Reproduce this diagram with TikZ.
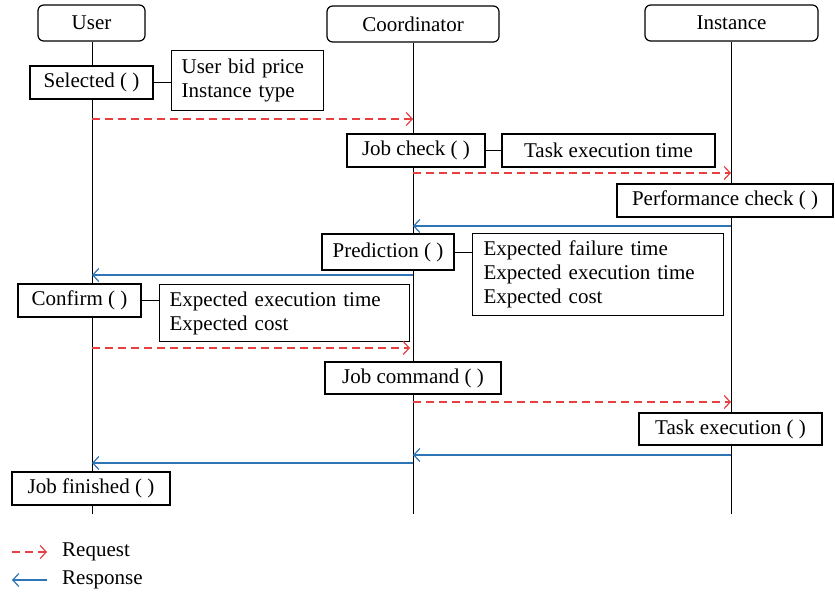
\documentclass[tikz,border=0pt]{standalone}
\usepackage{fontspec}
\setmainfont{Liberation Serif}
\usepackage{xcolor}
\usepackage{tikz}
\usetikzlibrary{calc}
\usetikzlibrary{positioning}
\usetikzlibrary{arrows.meta}

\definecolor{reqred}{RGB}{232,64,64}
\definecolor{respblue}{RGB}{46,117,182}

\begin{document}
\begin{tikzpicture}[
    x = 1pt,
    y = -1pt,
    font = \fontsize{21}{24}\selectfont,
    headf/.style = {
      rectangle,
      draw=black,
      rounded corners=2mm,
      fill=white,
      line width=1.2pt,
      minimum height=36pt,
      inner sep=0pt
    },
    callf/.style = {
      rectangle,
      draw=black,
      fill=white,
      line width=1.2pt,
      minimum height=33pt,
      inner sep=0pt
    },
    notef/.style = {
      rectangle,
      draw=black,
      fill=white,
      line width=1.2pt,
      anchor=north west,
      align=left,
      inner xsep=10pt,
      inner ysep=0pt
    },
    lifel/.style = {
      draw=black,
      line width=1pt
    },
    req/.style = {
      draw=reqred,
      line width=1.3pt,
      dash pattern=on 8pt off 5pt,
      -{Straight Barb[length=6pt,width=13pt,line width=1.2pt]}
    },
    resp/.style = {
      draw=respblue,
      line width=1.3pt,
      -{Straight Barb[length=6pt,width=13pt,line width=1.2pt]}
    }
  ]
    \useasboundingbox (0,0) rectangle (835,597);

    % lifeline heads
    \node[headf, minimum width=107pt] (user) at (91.5,23) {User};
    \node[headf, minimum width=172pt] (coord) at (413,24) {Coordinator};
    \node[headf, minimum width=173pt] (inst) at (731.5,23) {Instance};

    \coordinate (userend) at (92,514);
    \coordinate (coordend) at (413,514);
    \coordinate (instend) at (731,514);
    \draw[lifel] (user.south -| userend) -- (userend);
    \draw[lifel] (coord.south -| coordend) -- (coordend);
    \draw[lifel] (inst.south -| instend) -- (instend);

    % calls and notes
    \node[callf, minimum width=123pt] (sel) at (91.5,82.5) {Selected ( )};
    \node[notef, text width=132pt, minimum height=60pt] (bid) at (171,50)
      {User bid price\\Instance type};
    \draw[lifel] (sel.east) -- (sel.east -| bid.west);

    \node[callf, minimum width=138pt] (jcheck) at (416,150.5) {Job check ( )};
    \node[callf, minimum width=213pt] (ttime) at (608.5,150.5) {Task execution time};
    \draw[lifel] (jcheck) -- (ttime);

    \node[callf, minimum width=216pt] (perf) at (725,200.5) {Performance check ( )};

    \node[callf, minimum width=132pt, minimum height=36pt] (pred) at (388,252) {Prediction ( )};
    \node[notef, text width=229pt, minimum height=82pt, inner xsep=11pt] (exp) at (472,233)
      {Expected failure time\\Expected execution time\\Expected cost};
    \draw[lifel] (pred.east) -- (pred.east -| exp.west);

    \node[callf, minimum width=123pt] (conf) at (79.5,300.5) {Confirm ( )};
    \node[notef, text width=230pt, minimum height=57pt] (expc) at (159,284)
      {Expected execution time\\Expected cost};
    \draw[lifel] (conf.east) -- (conf.east -| expc.west);

    \node[callf, minimum width=176pt, minimum height=32pt] (jcmd) at (413,378) {Job command ( )};
    \node[callf, minimum width=183pt, minimum height=32pt] (texec) at (730.5,429) {Task execution ( )};
    \node[callf, minimum width=158pt] (jfin) at (91,488.5) {Job finished ( )};

    % messages
    \draw[req] (userend |- 0,119) -- (coordend |- 0,119);
    \draw[req] (coordend |- 0,173) -- (instend |- 0,173);
    \draw[resp] (instend |- 0,226) -- (coordend |- 0,226);
    \draw[resp] (coordend |- 0,275) -- (userend |- 0,275);
    \draw[req] (userend |- 0,348) -- (410,348);
    \draw[req] (coordend |- 0,402) -- (instend |- 0,402);
    \draw[resp] (instend |- 0,455) -- (coordend |- 0,455);
    \draw[resp] (coordend |- 0,463) -- (userend |- 0,463);

    % legend
    \node[anchor=west, inner sep=0pt] (reqlab) at (62,552) {Request};
    \node[anchor=west, inner sep=0pt] (resplab) at (62,580) {Response};
    \draw[req] ($(reqlab.west)+(-50,0)$) -- ($(reqlab.west)+(-15,0)$);
    \draw[resp] ($(resplab.west)+(-15,0)$) -- ($(resplab.west)+(-50,0)$);
  \end{tikzpicture}
\end{document}
